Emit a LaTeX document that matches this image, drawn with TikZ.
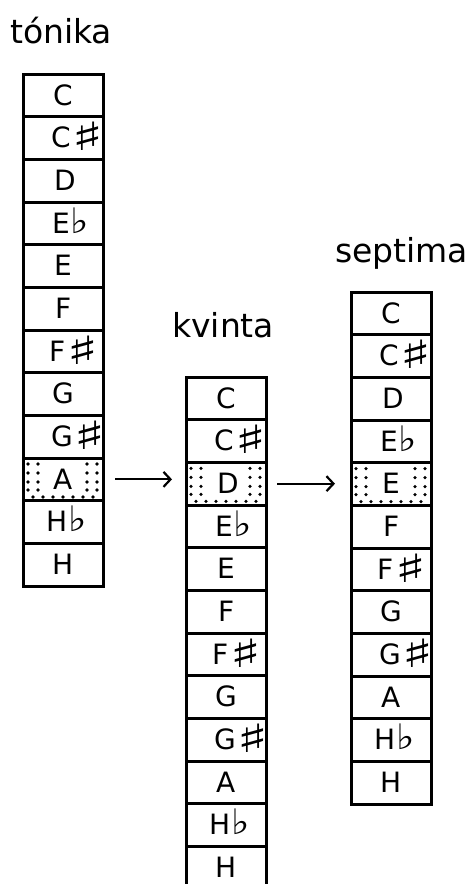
\documentclass[tikz,border=0pt]{standalone}
\usepackage{fontspec}
\setmainfont{DejaVu Sans}
\usepackage{graphicx}
\usetikzlibrary{arrows.meta}
\newcommand\Sh{\kern1pt\raisebox{-3pt}{\scalebox{2.6}[1.5]{\fontsize{26}{26}\selectfont ♯}}}
\newcommand\Fl{\kern1pt\scalebox{1.5}[1.35]{\fontsize{26}{26}\selectfont ♭}}
\tikzset{
  cell/.style={draw, line width=3pt, minimum width=80pt, minimum height=42.67pt,
    inner sep=0pt, outer sep=0pt, anchor=north west},
  note/.style={anchor=base west, inner sep=0pt, font=\fontsize{28}{28}\selectfont},
  title/.style={anchor=base west, inner sep=0pt, font=\fontsize{33}{40}\selectfont},
  conn/.style={line width=2.2pt, -{Straight Barb[length=7pt,width=15pt,line width=2.2pt]}},
}
\newcommand\notecolumn[4]{%
  \foreach \lab/\off [count=\i from 0] in {C/30, C\Sh/28, D/31, E\Fl/29, E/31, F/32,
      F\Sh/26, G/29, G\Sh/28, A/30, H\Fl/23, H/29}{
    \node[cell] (#1\i) at (#2, {#3+\i*42.67}) {};
    \ifnum\i=#4
      \foreach \dx in {5,15,64,74}{\foreach \dy in {6,15,24,32}{
        \fill ([shift={(\dx,\dy)}]#1\i.north west) circle (1.8pt);}}
      \foreach \dx in {10,20,30,40,50,60,70}{
        \fill ([shift={(\dx,39)}]#1\i.north west) circle (1.8pt);}
    \fi
    \path (#1\i.north west) ++(\off,31) node[note] {\lab};
  }}
\begin{document}
\begin{tikzpicture}[x=1pt,y=-1pt]
  \useasboundingbox (0,0) rectangle (470,884);
  \clip (0,0) rectangle (470,884);
  \node[title] (ttonika) at (10,43) {tónika};
  \node[title] (tkvinta) at (172,337) {kvinta};
  \node[title] (tseptima) at (335,262) {septima};
  \notecolumn{t}{23}{74}{9}
  \notecolumn{k}{186}{377}{2}
  \notecolumn{s}{351}{292}{4}
  \draw[conn, shorten <=12pt, shorten >=14pt] (t9.east) -- (t9.east -| k2.west);
  \draw[conn, shorten <=11pt, shorten >=16pt] (k2.east) -- (k2.east -| s4.west);
\end{tikzpicture}
\end{document}
